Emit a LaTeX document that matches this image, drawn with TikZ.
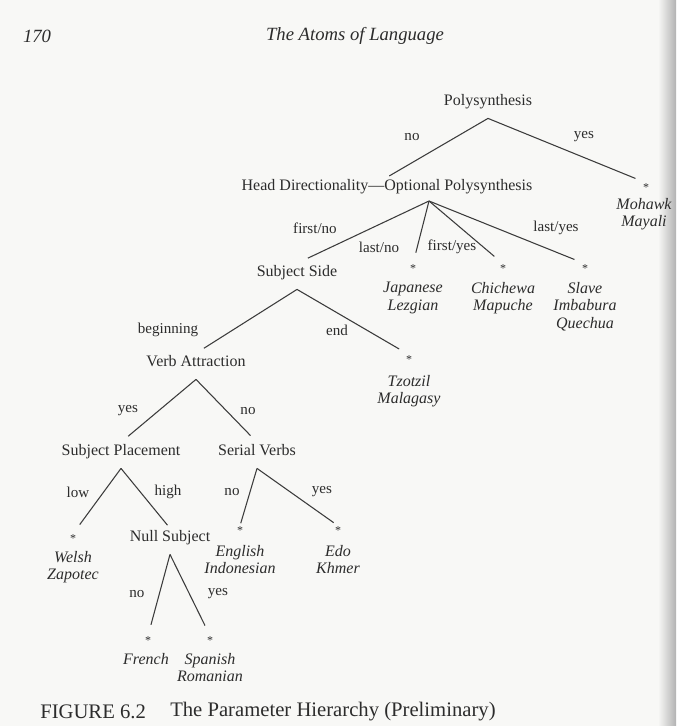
\documentclass[tikz,border=0pt]{standalone}
\usepackage{fontspec}
\setmainfont{Liberation Serif}
\definecolor{ink}{HTML}{2C2C2C}
\definecolor{wire}{HTML}{3C3C3C}
\definecolor{paper}{HTML}{F8F8F6}
\begin{document}
\begin{tikzpicture}[x=0.75pt,y=-0.75pt,
  every node/.style={text=ink, inner sep=1.5pt},
  lab/.style={font=\fontsize{12}{14}\selectfont, text height=8.5pt, text depth=2.7pt},
  edgelab/.style={font=\fontsize{11.3}{13}\selectfont, inner sep=0pt},
  lang/.style={font=\fontsize{12}{13}\selectfont\itshape, align=center, anchor=north, inner sep=0pt},
  ast/.style={font=\fontsize{9}{9}\selectfont, inner sep=0pt, text height=6pt, text depth=0pt},
  br/.style={draw=wire, line width=0.8pt, line join=miter, shorten >=7pt},
  tostar/.style={shorten >=8.5pt}]
\useasboundingbox (0,0) rectangle (676,726);
\fill[paper] (0,0) rectangle (676,726);
\shade[left color=paper, right color=gray!60] (658,0) rectangle (676,726);

% header
\node[font=\fontsize{14}{16}\selectfont\itshape] (pagenum) at (37,36) {170};
\node[font=\fontsize{14}{16}\selectfont\itshape] (runhead) at (355,36) {The Atoms of Language};

% internal nodes
\node[lab] (poly) at (488,102) {Polysynthesis};
\node[lab] (hd) at (387,187) {Head Directionality---Optional Polysynthesis};
\node[lab] (ss) at (297,273) {Subject Side};
\node[lab] (va) at (196,363) {Verb Attraction};
\node[lab] (sp) at (121,452) {Subject Placement};
\node[lab] (sv) at (257,452) {Serial Verbs};
\node[lab] (ns) at (170,538) {Null Subject};

% branching points
\coordinate (polyA) at ([yshift=-5pt]poly.south);
\coordinate (hdA) at (429,201);
\coordinate (ssA) at ([yshift=-5pt]ss.south);
\coordinate (vaA) at ([yshift=-5pt]va.south);
\coordinate (spA) at ([yshift=-5pt]sp.south);
\coordinate (svA) at ([yshift=-5pt]sv.south);
\coordinate (nsA) at ([yshift=-5pt]ns.south);

% stars
\node[ast] (stMo) at (646,187) {*};
\node[ast] (stJa) at (413,268) {*};
\node[ast] (stCh) at (503,268) {*};
\node[ast] (stSl) at (585,268) {*};
\node[ast] (stTz) at (409,359) {*};
\node[ast] (stWe) at (73,538) {*};
\node[ast] (stEn) at (240,530) {*};
\node[ast] (stEd) at (338,530) {*};
\node[ast] (stFr) at (148,640) {*};
\node[ast] (stSp) at (210,640) {*};

% languages
\node[lang] (lgMo) at (644,198) {Mohawk\\Mayali};
\node[lang] (lgJa) at (413,282) {Japanese\\Lezgian};
\node[lang] (lgCh) at (503,282) {Chichewa\\Mapuche};
\node[lang] (lgSl) at (585,282) {Slave\\Imbabura\\Quechua};
\node[lang] (lgTz) at (409,375) {Tzotzil\\Malagasy};
\node[lang] (lgWe) at (73,551) {Welsh\\Zapotec};
\node[lang] (lgEn) at (240,545) {English\\Indonesian};
\node[lang] (lgEd) at (338,545) {Edo\\Khmer};
\node[lang] (lgFr) at (146,653) {French};
\node[lang] (lgSp) at (210,653) {Spanish\\Romanian};

% branch labels
\node[edgelab] (l1) at (412,137) {no};
\node[edgelab] (l2) at (584,137) {yes};
\node[edgelab] (l3) at (315,228) {first/no};
\node[edgelab] (l4) at (379,247) {last/no};
\node[edgelab] (l5) at (452,247) {first/yes};
\node[edgelab] (l6) at (556,228) {last/yes};
\node[edgelab] (l7) at (168,330) {beginning};
\node[edgelab] (l8) at (337,330) {end};
\node[edgelab] (l9) at (128,411) {yes};
\node[edgelab] (l10) at (248,411) {no};
\node[edgelab] (l11) at (78,492) {low};
\node[edgelab] (l12) at (168,492) {high};
\node[edgelab] (l13) at (232,492) {no};
\node[edgelab] (l14) at (322,492) {yes};
\node[edgelab] (l15) at (137,594) {no};
\node[edgelab] (l16) at (218,594) {yes};

% connectors
\draw[br, shorten >=2pt] (polyA) -- (hd.north);
\draw[br, tostar] (polyA) -- (stMo.north);
\draw[br, shorten >=9pt] (hdA) -- (ss.north);
\draw[br, tostar] (hdA) -- (stJa.north);
\draw[br, tostar] (hdA) -- (stCh.north);
\draw[br, tostar] (hdA) -- (stSl.north);
\draw[br] (ssA) -- (va.north);
\draw[br, tostar] (ssA) -- (stTz.north);
\draw[br] (vaA) -- (sp.north);
\draw[br] (vaA) -- (sv.north);
\draw[br, tostar] (spA) -- (stWe.north);
\draw[br, shorten >=3pt] (spA) -- (ns.north);
\draw[br, shorten >=2pt] (svA) -- (stEn.north);
\draw[br, shorten >=4pt] (svA) -- (stEd.north);
\draw[br, tostar] (nsA) -- (stFr.north);
\draw[br, tostar] (nsA) -- (stSp.north);

% caption
\node[font=\fontsize{15.5}{18}\selectfont, anchor=west, inner sep=0pt] (figlab) at (40,712) {FIGURE 6.2};
\node[font=\fontsize{15.5}{18}\selectfont, anchor=west, inner sep=0pt] (figcap) at (170,712) {The Parameter Hierarchy (Preliminary)};
\end{tikzpicture}
\end{document}
